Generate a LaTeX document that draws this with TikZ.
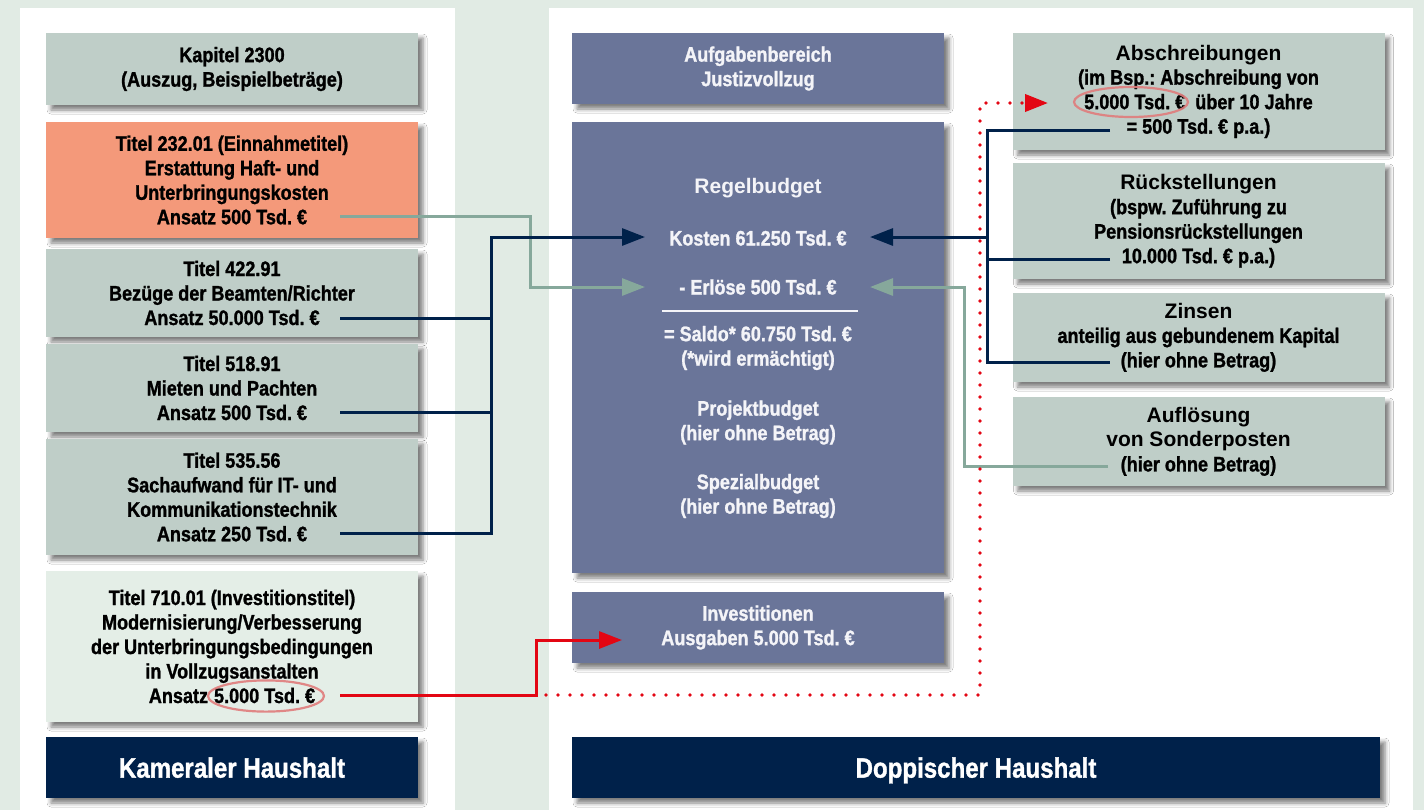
\documentclass[tikz,border=0pt]{standalone}
\usepackage{fontspec}
\setmainfont{Liberation Sans}
\newfontfamily\condf{Liberation Sans Bold}[FakeStretch=0.86, FakeBold=1.2]
\newfontfamily\widef{Liberation Sans Bold}
\usetikzlibrary{arrows.meta,shadows.blur,calc}
\definecolor{bgc}{HTML}{E1EBE4}
\definecolor{boxg}{HTML}{BFCEC8}
\definecolor{salm}{HTML}{F4997A}
\definecolor{boxl}{HTML}{E4EEE7}
\definecolor{slate}{HTML}{6A7599}
\definecolor{navy}{HTML}{00214A}
\definecolor{tealc}{HTML}{86A89B}
\definecolor{redc}{HTML}{E30613}
\definecolor{ellc}{HTML}{E07C7C}
\definecolor{wtext}{HTML}{F4F4F8}
\newcommand\hdw[1]{{\widef #1}}
\frenchspacing
\tikzset{
  shad/.style={blur shadow={shadow xshift=2.5pt, shadow yshift=-2.5pt, shadow blur radius=2pt, shadow opacity=50}},
  basebox/.style={shad, inner sep=0pt, align=center, text=black,
    font=\condf\fontsize{10.5}{12.25}\selectfont},
  gbox/.style={basebox, fill=boxg, minimum width=186pt},
  sbox/.style={basebox, fill=slate, text=wtext, minimum width=186pt},
  nbox/.style={basebox, fill=navy, text=white, text depth=0pt, font=\condf\fontsize{14}{16}\selectfont},
  intext/.style={inner sep=0pt, align=center, text=wtext, font=\condf\fontsize{10.5}{12.25}\selectfont},
  arr/.style={-{Triangle[length=11.5pt,width=8.5pt]}},
  navyl/.style={draw=navy, line width=1.5pt},
  teall/.style={draw=tealc, line width=1.5pt},
  redl/.style={draw=redc, line width=1.5pt},
  redd/.style={draw=redc, line width=1.9pt, dash pattern=on 0pt off 6pt, line cap=round},
  ellip/.style={draw=ellc, line width=1.1pt, draw opacity=0.9}
}
\begin{document}
\begin{tikzpicture}[x=0.5pt,y=-0.5pt]
\useasboundingbox (0,0) rectangle (1424,810);
\fill[bgc] (0,0) rectangle (1424,810);
\fill[white] (20,8) rectangle (455,810);
\fill[white] (549,8) rectangle (1413,810);

% left column
\node[gbox, minimum height=36pt] (kap) at (232,69) {Kapitel 2300\\(Auszug, Beispielbeträge)};
\node[gbox, fill=salm, minimum height=58pt] (t232) at (232,180) {Titel 232.01 (Einnahmetitel)\\Erstattung Haft- und\\Unterbringungskosten\\Ansatz 500 Tsd. €};
\node[gbox, minimum height=44pt] (t422) at (232,293) {Titel 422.91\\Bezüge der Beamten/Richter\\Ansatz 50.000 Tsd. €};
\node[gbox, minimum height=44pt] (t518) at (232,388) {Titel 518.91\\Mieten und Pachten\\Ansatz 500 Tsd. €};
\node[gbox, minimum height=58pt] (t535) at (232,497) {Titel 535.56\\Sachaufwand für IT- und\\Kommunikationstechnik\\Ansatz 250 Tsd. €};
\node[gbox, fill=boxl, minimum height=75.5pt] (t710) at (232,646.5) {Titel 710.01 (Investitionstitel)\\Modernisierung/Verbesserung\\der Unterbringungsbedingungen\\in Vollzugsanstalten\\Ansatz\hspace{3pt}5.000 Tsd. €};
\node[nbox, minimum width=186pt, minimum height=30.5pt] (kam) at (232,767.5) {Kameraler Haushalt};

% middle column
\node[sbox, minimum height=35.5pt] (auf) at (758,68.5) {Aufgabenbereich\\Justizvollzug};
\node[sbox, minimum height=225.5pt] (reg) at (758,347.5) {};
\node[intext] (rbt) at (758,188) {\hdw{Regelbudget}};
\node[intext] (kosten) at (758,238) {Kosten 61.250 Tsd. €};
\node[intext] (erloese) at (758,287) {- Erlöse 500 Tsd. €};
\draw[wtext, line width=1.3pt] (662,311) -- (858,311);
\node[intext] (saldo) at (758,348) {= Saldo* 60.750 Tsd. €\\(*wird ermächtigt)};
\node[intext] (proj) at (758,422.5) {Projektbudget\\(hier ohne Betrag)};
\node[intext] (spez) at (758,496) {Spezialbudget\\(hier ohne Betrag)};
\node[sbox, minimum height=35.5pt] (inv) at (758,627.5) {Investitionen\\Ausgaben 5.000 Tsd. €};
\node[nbox, minimum width=404pt, minimum height=30.5pt] (dop) at (976,767.5) {Doppischer Haushalt};

% right column
\node[gbox, minimum height=58.5pt] (abs) at (1198.5,91.5) {\hdw{Abschreibungen}\\(im Bsp.: Abschreibung von\\5.000 Tsd. €\hspace{5pt}über 10 Jahre\\= 500 Tsd. € p.a.)};
\node[gbox, minimum height=58pt] (rue) at (1198.5,221) {\hdw{Rückstellungen}\\(bspw. Zuführung zu\\Pensionsrückstellungen\\10.000 Tsd. € p.a.)};
\node[gbox, minimum height=44.5pt] (zin) at (1198.5,337.5) {\hdw{Zinsen}\\anteilig aus gebundenem Kapital\\(hier ohne Betrag)};
\node[gbox, minimum height=44.5pt] (aufl) at (1198.5,441.5) {\hdw{Auflösung}\\\hdw{von Sonderposten}\\(hier ohne Betrag)};

% highlight ellipses
\draw[ellip] (1131,102) ellipse [x radius=28.5pt, y radius=7.5pt];
\draw[ellip] (266,696) ellipse [x radius=29pt, y radius=7.8pt];

% connector coordinates
\coordinate (c232) at (340,216);
\coordinate (c422) at (340,318);
\coordinate (c518) at (340,412);
\coordinate (c535) at (340,533);
\coordinate (c710) at (340,695);
\coordinate (jl) at (491,237);
\coordinate (tbl) at (530,287);
\coordinate (kin) at (645,237);
\coordinate (ein) at (645,287);
\coordinate (cabs) at (1110,130);
\coordinate (crue) at (1110,259);
\coordinate (czin) at (1110,362);
\coordinate (caufl) at (1108,466);
\coordinate (jr) at (987,237);
\coordinate (jrb) at (987,362);
\coordinate (tbr) at (964,287);
\coordinate (kinr) at (870,237);
\coordinate (einr) at (870,287);
\coordinate (rc) at (536,640);
\coordinate (rd) at (536,695);
\coordinate (dtop) at (980,103);
\coordinate (invin) at (622,640);
\coordinate (absin) at (1048,103);

% teal connectors
\draw[teall, arr] (c232) -| (tbl) -- (ein);
\draw[teall, arr] (caufl) -| (tbr) -- (einr);
% navy connectors
\draw[navyl, arr] (c535) -| (jl) -- (kin);
\draw[navyl] (c422) -- (c422 -| jl);
\draw[navyl] (c518) -- (c518 -| jl);
\draw[navyl] (cabs) -| (jrb) -- (czin);
\draw[navyl] (crue) -- (crue -| jr);
\draw[navyl, arr] (jr) -- (kinr);
% red connectors
\draw[redd, arr] ([xshift=5pt]rd) -| (dtop) -- (absin);
\draw[redl, arr] (c710) -| (rc) -- (invin);
\end{tikzpicture}
\end{document}
